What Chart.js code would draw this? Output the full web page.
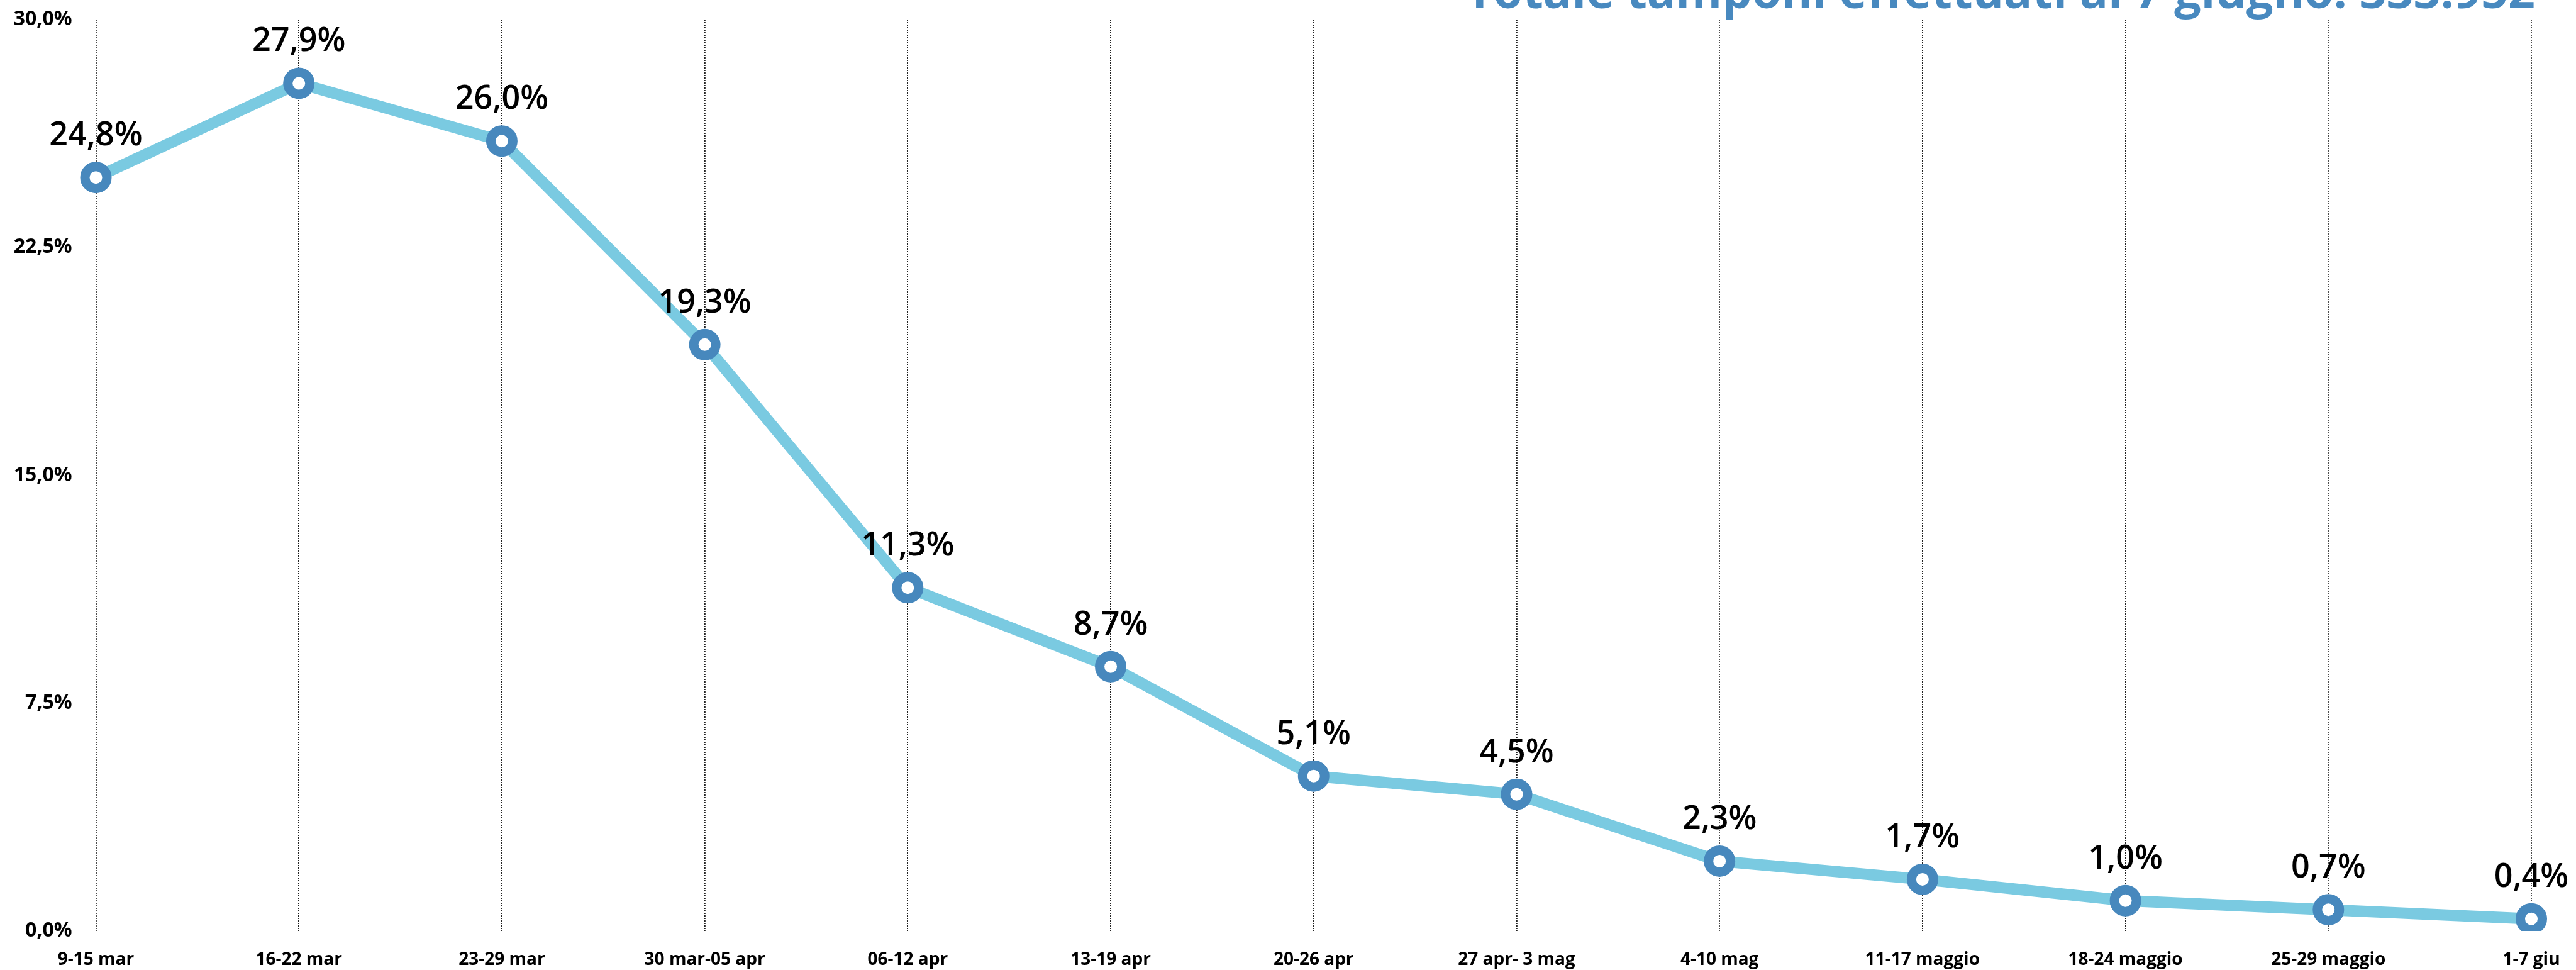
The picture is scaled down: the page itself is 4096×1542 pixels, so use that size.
<!DOCTYPE html>
<html>
<head>
<meta charset="utf-8">
<script src="https://cdn.jsdelivr.net/npm/chart.js@4.4.0/dist/chart.umd.min.js"></script>
<style>
    body { margin: 0; background: #fff; }
    canvas { display: block; }
</style>
</head>
<body>
<canvas id="chart" width="4096" height="1542"></canvas>
<script>
// weeks on the x axis
const weeks = ['9-15 mar', '16-22 mar', '23-29 mar', '30 mar-05 apr', '06-12 apr', '13-19 apr',
    '20-26 apr', '27 apr- 3 mag', '4-10 mag', '11-17 maggio', '18-24 maggio', '25-29 maggio', '1-7 giu'];

// positive share of swabs, %
const positivi = [24.8, 27.9, 26.0, 19.3, 11.3, 8.7, 5.1, 4.5, 2.3, 1.7, 1.0, 0.7, 0.4];

// y axis ticks
const yTicks = [0, 7.5, 15, 22.5, 30];

const titleText = 'Totale tamponi effettuati al 7 giugno: 333.952';

const fmt = v => v.toFixed(1).replace('.', ',') + '%';

// value labels above each point
const valueLabels = {
    id: 'valueLabels',
    afterDatasetsDraw(chart) {
        const ctx = chart.ctx;
        const meta = chart.getDatasetMeta(0);
        ctx.save();
        ctx.font = '600 52px "Open Sans"';
        ctx.fillStyle = '#000';
        ctx.textAlign = 'center';
        ctx.textBaseline = 'alphabetic';
        meta.data.forEach((pt, i) => {
            ctx.fillText(fmt(positivi[i]), pt.x, pt.y - 51);
        });
        ctx.restore();
    }
};

// title cut at the top edge, right side
const topTitle = {
    id: 'topTitle',
    afterDraw(chart) {
        const ctx = chart.ctx;
        ctx.save();
        ctx.font = '700 100px "Open Sans"';
        const w = ctx.measureText(titleText).width;
        const size = 100 * 1700 / w;
        ctx.font = '700 ' + size + 'px "Open Sans"';
        ctx.fillStyle = '#4889BF';
        ctx.textAlign = 'right';
        ctx.textBaseline = 'alphabetic';
        ctx.fillText(titleText, 4031, 13);
        ctx.restore();
    }
};

const ctx = document.getElementById('chart').getContext('2d');
new Chart(ctx, {
    type: 'line',
    data: {
        labels: weeks,
        datasets: [{
            data: positivi,
            borderColor: '#7ACAE1',
            borderWidth: 18,
            pointRadius: 17.5,
            pointHoverRadius: 17.5,
            pointBorderWidth: 15,
            pointBorderColor: '#4788BD',
            pointBackgroundColor: '#fff',
            tension: 0,
            fill: false
        }]
    },
    options: {
        responsive: false,
        animation: false,
        layout: { autoPadding: false, padding: { top: 31, right: 71, bottom: 0, left: 0 } },
        plugins: {
            legend: { display: false },
            tooltip: { enabled: false }
        },
        scales: {
            x: {
                offset: false,
                grid: {
                    display: true,
                    drawTicks: false,
                    color: '#222',
                    lineWidth: 1.8
                },
                border: { display: false, dash: [2, 2] },
                ticks: {
                    padding: 29,
                    color: '#000',
                    maxRotation: 0,
                    autoSkip: false,
                    font: { family: '"Open Sans"', size: 28, weight: '700' }
                },
                afterFit(scale) {
                    scale.height = 62;
                    scale.paddingLeft = 0;
                    scale.paddingRight = 0;
                }
            },
            y: {
                min: 0,
                max: 30,
                border: { display: false },
                grid: { display: false, drawTicks: false },
                afterBuildTicks(scale) {
                    scale.ticks = yTicks.map(v => ({ value: v }));
                },
                ticks: {
                    padding: 38,
                    color: '#000',
                    font: { family: '"Open Sans"', size: 32, weight: '700' },
                    callback: v => fmt(v)
                },
                afterFit(scale) {
                    scale.width = 152.5;
                    scale.paddingTop = 0;
                    scale.paddingBottom = 0;
                }
            }
        }
    },
    plugins: [valueLabels, topTitle]
});
</script>
</body>
</html>
